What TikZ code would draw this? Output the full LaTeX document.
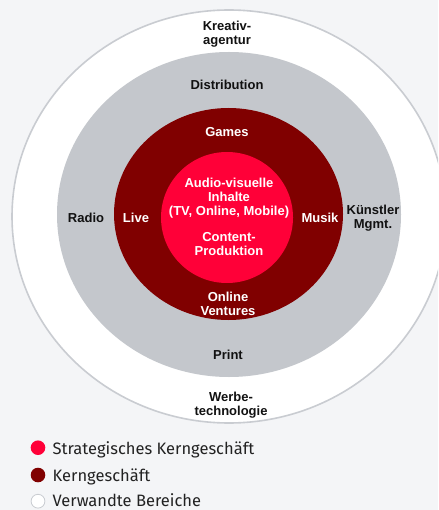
\documentclass[tikz,border=0pt]{standalone}
\usepackage{fontspec}
\setmainfont{Liberation Sans}
\newfontfamily\legendfont{Fira Sans}
\definecolor{bg}{HTML}{F4F5F7}
\definecolor{ringline}{HTML}{C9CCD1}
\definecolor{grayring}{HTML}{C4C7CC}
\definecolor{kern}{HTML}{800000}
\definecolor{strat}{HTML}{FF0038}
\definecolor{legtext}{HTML}{222222}
\definecolor{lbltext}{HTML}{111111}
\begin{document}
\begin{tikzpicture}[x=1pt,y=-1pt,
  lbl/.style={font=\bfseries\fontsize{13}{14}\selectfont, align=center, inner sep=0pt, text=lbltext},
  wlbl/.style={lbl, text=white},
  leg/.style={font=\legendfont\fontsize{16.5}{20}\selectfont, anchor=base west, inner sep=0pt, text=legtext, text depth=0pt},
  marker/.style={circle, minimum size=14.6pt, inner sep=0pt}]
\useasboundingbox (0,0) rectangle (438,510);
\fill[bg] (0,0) rectangle (438,510);
\begin{scope}
  \clip (0,0) rectangle (438,510);
  \draw[ringline, fill=white, line width=1.6pt] (229,216.5) ellipse [x radius=217pt, y radius=206.5pt];
\end{scope}
\fill[grayring] (229,214.5) ellipse [x radius=172pt, y radius=162.5pt];
\fill[kern] (228.5,214) ellipse [x radius=114.5pt, y radius=106pt];
\fill[strat] (227,217.5) ellipse [x radius=66pt, y radius=65.5pt];

\node[lbl] (kreativ) at (227,34) {Kreativ-\\agentur};
\node[lbl] (distribution) at (227,84.5) {Distribution};
\node[wlbl] (games) at (227,132.5) {Games};
\node[wlbl] (av) at (229,198.5) {Audio-visuelle\\Inhalte\\(TV, Online, Mobile)};
\node[wlbl] (content) at (229,244.5) {Content-\\Produktion};
\node[lbl] (radio) at (86,217.5) {Radio};
\node[wlbl] (live) at (136,217.5) {Live};
\node[wlbl] (musik) at (320,217.5) {Musik};
\node[lbl] (kuenstler) at (373,218.5) {Künstler\\Mgmt.};
\node[wlbl] (online) at (228,303.5) {Online\\Ventures};
\node[lbl] (print) at (228,354.5) {Print};
\node[lbl] (werbe) at (231,405) {Werbe-\\technologie};

\node[marker, fill=strat] (m1) at (38,447.7) {};
\node[marker, fill=kern] (m2) at (38,475) {};
\node[marker, fill=white, draw=ringline, line width=0.8pt, minimum size=13.8pt] (m3) at (38,501.2) {};
\node[leg] (l1) at (52.5,454.5) {Strategisches Kerngeschäft};
\node[leg] (l2) at (52.5,481.5) {Kerngeschäft};
\node[leg] (l3) at (52.5,506.5) {Verwandte Bereiche};
\end{tikzpicture}
\end{document}
